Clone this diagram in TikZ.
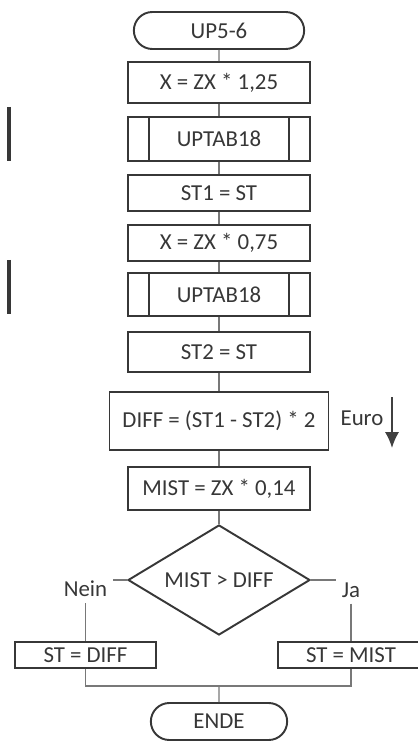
\documentclass[tikz,border=0pt]{standalone}
\usepackage{fontspec}
\setmainfont{Carlito}
\definecolor{inkgray}{RGB}{55,55,55}
\definecolor{linegray}{RGB}{120,120,120}
\usetikzlibrary{shapes.geometric, shapes.misc, arrows, arrows.meta, positioning}

\begin{document}
\begin{tikzpicture}[node distance=1.1cm, auto, font=\fontsize{13}{15}\selectfont, text=inkgray]
      \tikzstyle{block} = [rectangle, draw=inkgray, line width=1.1pt, text centered, minimum height=0.8cm, minimum width=3.64cm, inner sep=0pt]
      \tikzstyle{term} = [rounded rectangle, draw=inkgray, line width=1.1pt, minimum height=0.74cm, minimum width=3.64cm]
      \tikzstyle{decision} = [diamond, draw=inkgray, line width=1.1pt, aspect=1.65, minimum width=3.64cm, minimum height=2.2cm, inner sep=0pt]
      \tikzstyle{line} = [draw=linegray, line width=0.6pt]
      \tikzstyle{bar} = [draw=inkgray, line width=2.2pt]

      \useasboundingbox (0,0) rectangle (8.34,-15.02);

      \node [term] (start) at (4.38,-0.61) {UP5-6};
      \node [block, below of=start, node distance=1.04cm, minimum height=0.82cm] (xone) {X = ZX * 1,25};
      \node [block, below of=xone, node distance=1.13cm, minimum height=0.88cm] (tabone) {UPTAB18};
      \node [block, below of=tabone, node distance=1.08cm, minimum height=0.72cm] (stone) {ST1 = ST};
      \node [block, below of=stone, node distance=1.0cm, minimum height=0.72cm] (xtwo) {X = ZX * 0,75};
      \node [block, below of=xtwo, node distance=1.03cm, minimum height=0.86cm] (tabtwo) {UPTAB18};
      \node [block, below of=tabtwo, node distance=1.15cm] (sttwo) {ST2 = ST};
      \node [block, below of=sttwo, node distance=1.38cm, minimum height=1.16cm, minimum width=4.38cm] (diff) {DIFF = (ST1 - ST2) * 2};
      \node [right of=diff, node distance=2.86cm, yshift=0.06cm] (euro) {Euro};
      \node [block, below of=diff, node distance=1.35cm, minimum height=0.86cm] (mist) {MIST = ZX * 0,14};
      \node [decision, below of=mist, node distance=1.83cm] (test) {MIST > DIFF};
      \node [block, below of=test, xshift=-2.67cm, node distance=1.5cm, minimum height=0.52cm, minimum width=2.82cm] (stdiff) {ST = DIFF};
      \node [block, below of=test, xshift=2.64cm, node distance=1.5cm, minimum height=0.52cm, minimum width=2.92cm] (stmist) {ST = MIST};
      \node [above of=stdiff, node distance=1.32cm] (nein) {Nein};
      \node [above of=stmist, node distance=1.3cm] (ja) {Ja};
      \node [term, below of=test, node distance=2.83cm, minimum width=2.96cm] (ende) {ENDE};
      \coordinate [above of=ende, node distance=0.71cm] (merge);

      % side lines of the sub-program boxes
      \foreach \t in {tabone, tabtwo} {
        \draw [draw=inkgray, line width=1.1pt] ([xshift=0.44cm]\t.north west) -- ([xshift=0.44cm]\t.south west);
        \draw [draw=inkgray, line width=1.1pt] ([xshift=-0.44cm]\t.north east) -- ([xshift=-0.44cm]\t.south east);
      }

      \path [line] (start) -- (xone);
      \path [line] (xone) -- (tabone);
      \path [line] (tabone) -- (stone);
      \path [line] (stone) -- (xtwo);
      \path [line] (xtwo) -- (tabtwo);
      \path [line] (tabtwo) -- (sttwo);
      \path [line] (sttwo) -- (diff);
      \path [line] (diff) -- (mist);
      \path [line] (mist) -- (test);
      \path [line] (test.west) -- (test.west -| nein.east);
      \path [line] (test.east) -- (test.east -| ja.west);
      \path [line] (nein) -- (stdiff);
      \path [line] (ja) -- (stmist);
      \path [line] (stdiff) |- (merge) -| (stmist);
      \path [line] (merge) -- (ende);

      % Euro arrow
      \coordinate (eurotop) at ([xshift=3.46cm, yshift=0.48cm]diff.center);
      \coordinate (eurobot) at ([xshift=3.46cm, yshift=-0.54cm]diff.center);
      \draw [draw=black!75, line width=1.1pt, -{Latex[length=9pt, width=8pt]}] (eurotop) -- (eurobot);

      % margin bars
      \draw [bar] (0.18,-2.14) -- (0.18,-3.22);
      \draw [bar] (0.18,-5.20) -- (0.18,-6.28);
    \end{tikzpicture}
\end{document}
